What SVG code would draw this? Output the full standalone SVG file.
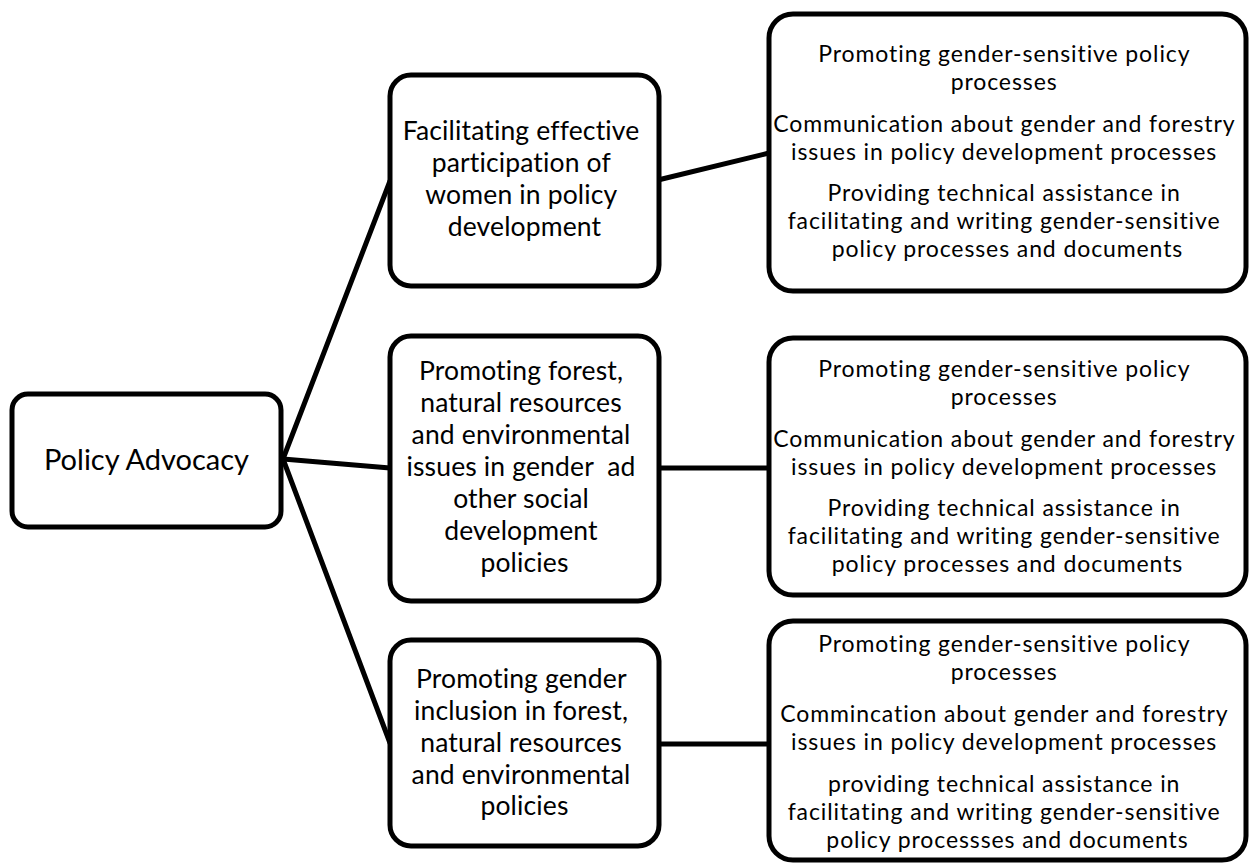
<svg xmlns="http://www.w3.org/2000/svg" width="1250" height="864" viewBox="0 0 1250 864">
  <style>
    .box { fill: #fff; stroke: #000; stroke-width: 5; }
    .link { stroke: #000; stroke-width: 5; fill: none; stroke-linecap: round; }
    text { font-family: Lato, "Open Sans", "Liberation Sans", sans-serif; fill: #000; text-anchor: middle; }
    .root { font-size: 29px; }
    .mid { font-size: 26.5px; letter-spacing: 0.15px; }
    .leaf { font-size: 23px; letter-spacing: 0.9px; }
  </style>
  <rect width="1250" height="864" fill="#fff"/>

  <!-- connectors -->
  <g id="connectors">
    <line class="link" x1="283" y1="459" x2="390" y2="181"/>
    <line class="link" x1="283" y1="459" x2="390" y2="468"/>
    <line class="link" x1="283" y1="459" x2="390" y2="743"/>
    <line class="link" x1="658" y1="180" x2="769" y2="153"/>
    <line class="link" x1="660" y1="468" x2="769" y2="468"/>
    <line class="link" x1="660" y1="744" x2="769" y2="744"/>
  </g>

  <!-- root -->
  <g id="policy-advocacy">
    <rect class="box" x="12" y="394" width="269" height="133" rx="16"/>
    <text class="root" x="146.5" y="470">Policy Advocacy</text>
  </g>

  <!-- second level -->
  <g id="women-participation">
    <rect class="box" x="390" y="75" width="269" height="211" rx="21"/>
    <text class="mid">
      <tspan x="524.5" y="140">Facilitating effective</tspan>
      <tspan x="524.5" y="172">participation of</tspan>
      <tspan x="524.5" y="204">women in policy</tspan>
      <tspan x="524.5" y="236">development</tspan>
    </text>
  </g>

  <g id="forest-issues">
    <rect class="box" x="390" y="336" width="269" height="265" rx="21"/>
    <text class="mid">
      <tspan x="524.5" y="380">Promoting forest,</tspan>
      <tspan x="524.5" y="412">natural resources</tspan>
      <tspan x="524.5" y="444">and environmental</tspan>
      <tspan x="524.5" y="476">issues in gender&#160; ad</tspan>
      <tspan x="524.5" y="508">other social</tspan>
      <tspan x="524.5" y="540">development</tspan>
      <tspan x="524.5" y="572">policies</tspan>
    </text>
  </g>

  <g id="gender-inclusion">
    <rect class="box" x="390" y="640" width="269" height="206" rx="21"/>
    <text class="mid">
      <tspan x="524.5" y="688">Promoting gender</tspan>
      <tspan x="524.5" y="720">inclusion in forest,</tspan>
      <tspan x="524.5" y="752">natural resources</tspan>
      <tspan x="524.5" y="784">and environmental</tspan>
      <tspan x="524.5" y="815">policies</tspan>
    </text>
  </g>

  <!-- third level -->
  <g id="actions-1">
    <rect class="box" x="769" y="14" width="477" height="277" rx="24"/>
    <text class="leaf">
      <tspan x="1007.5" y="62">Promoting gender-sensitive policy</tspan>
      <tspan x="1007.5" y="90">processes</tspan>
      <tspan x="1007.5" y="132">Communication about gender and forestry</tspan>
      <tspan x="1007.5" y="160">issues in policy development processes</tspan>
      <tspan x="1007.5" y="201">Providing technical assistance in</tspan>
      <tspan x="1007.5" y="229">facilitating and writing gender-sensitive</tspan>
      <tspan x="1007.5" y="257">policy processes and documents</tspan>
    </text>
  </g>

  <g id="actions-2">
    <rect class="box" x="769" y="338" width="477" height="257" rx="24"/>
    <text class="leaf">
      <tspan x="1007.5" y="377">Promoting gender-sensitive policy</tspan>
      <tspan x="1007.5" y="405">processes</tspan>
      <tspan x="1007.5" y="447">Communication about gender and forestry</tspan>
      <tspan x="1007.5" y="475">issues in policy development processes</tspan>
      <tspan x="1007.5" y="516">Providing technical assistance in</tspan>
      <tspan x="1007.5" y="544">facilitating and writing gender-sensitive</tspan>
      <tspan x="1007.5" y="572">policy processes and documents</tspan>
    </text>
  </g>

  <g id="actions-3">
    <rect class="box" x="769" y="621" width="477" height="239" rx="24"/>
    <text class="leaf">
      <tspan x="1007.5" y="652">Promoting gender-sensitive policy</tspan>
      <tspan x="1007.5" y="680">processes</tspan>
      <tspan x="1007.5" y="722">Commincation about gender and forestry</tspan>
      <tspan x="1007.5" y="750">issues in policy development processes</tspan>
      <tspan x="1007.5" y="792">providing technical assistance in</tspan>
      <tspan x="1007.5" y="820">facilitating and writing gender-sensitive</tspan>
      <tspan x="1007.5" y="848">policy processses and documents</tspan>
    </text>
  </g>
</svg>
